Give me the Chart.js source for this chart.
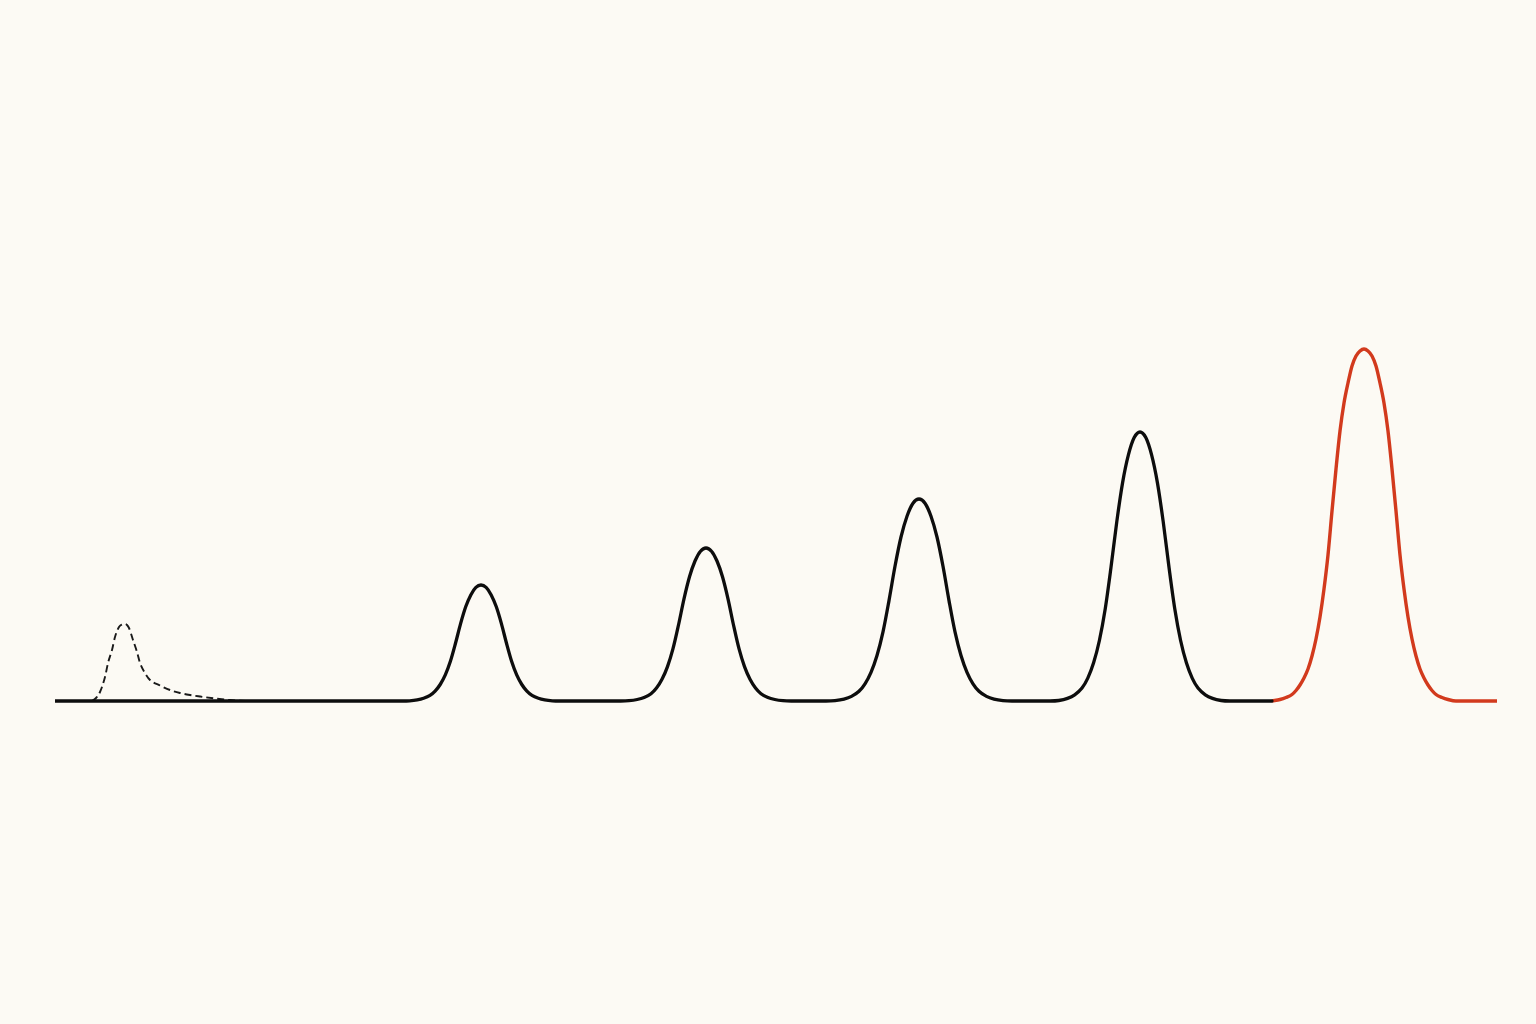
<!DOCTYPE html>
<html>
<head>
<meta charset="utf-8">
<script src="https://cdn.jsdelivr.net/npm/chart.js@4"></script>
<style>
  html, body { margin: 0; padding: 0; background: #fcfaf4; }
  #wrap { width: 1536px; height: 1024px; position: relative; }
</style>
</head>
<body>
<div id="wrap"><canvas id="c"></canvas></div>
<script>
// x: time units, y: height above baseline
const baseStartT = 0;
const baseEndT = 121.7;

const peak1T = [34.69, 35.46, 36.22, 36.86, 37.50, 38.01, 38.52, 39.03, 39.54, 40.05, 40.56, 41.07, 41.58, 42.09, 42.6,
                43.11, 43.62, 44.13, 44.64, 45.15, 45.66, 46.17, 46.68, 47.19, 47.70, 48.34, 48.98, 49.74, 50.51];
const peak1H = [0, 0.2, 1.1, 2.7, 5.6, 9.9, 16.5, 26.1, 39.7, 57.7, 77.4, 94.2, 106.1, 113.6, 116,
                113.6, 106.1, 94.2, 77.4, 57.7, 39.7, 26.1, 16.5, 9.9, 5.6, 2.7, 1.1, 0.2, 0];

const peak2T = [56.57, 57.40, 58.22, 58.91, 59.60, 60.15, 60.70, 61.25, 61.80, 62.35, 62.90, 63.45, 64.00, 64.55, 65.1,
                65.65, 66.20, 66.75, 67.30, 67.85, 68.40, 68.95, 69.50, 70.05, 70.60, 71.29, 71.98, 72.80, 73.63];
const peak2H = [0, 0.3, 1.5, 3.5, 7.3, 13.0, 21.7, 34.4, 52.3, 76.0, 102.1, 124.2, 140.0, 149.8, 153,
                149.8, 140.0, 124.2, 102.1, 76.0, 52.3, 34.4, 21.7, 13.0, 7.3, 3.5, 1.5, 0.3, 0];

const peak3T = [77.1, 78.0, 78.9, 79.65, 80.4, 81.0, 81.6, 82.2, 82.8, 83.4, 84.0, 84.6, 85.2, 85.8, 86.4,
                87.0, 87.6, 88.2, 88.8, 89.4, 90.0, 90.6, 91.2, 91.8, 92.4, 93.15, 93.9, 94.8, 95.7];
const peak3H = [0, 0.4, 1.9, 4.6, 9.7, 17.2, 28.7, 45.5, 69.1, 100.4, 134.7, 164.0, 184.8, 197.8, 202,
                197.8, 184.8, 164.0, 134.7, 100.4, 69.1, 45.5, 28.7, 17.2, 9.7, 4.6, 1.9, 0.4, 0];

const peak4T = [99.51, 100.38, 101.25, 101.97, 102.70, 103.28, 103.86, 104.44, 105.02, 105.60, 106.18, 106.76, 107.34, 107.92, 108.5,
                109.08, 109.66, 110.24, 110.82, 111.40, 111.98, 112.56, 113.14, 113.72, 114.30, 115.03, 115.75, 116.62, 117.49];
const peak4H = [0, 0.5, 2.6, 6.2, 12.9, 22.9, 38.2, 60.5, 92.0, 133.7, 179.4, 218.4, 246.1, 263.4, 269,
                263.4, 246.1, 218.4, 179.4, 133.7, 92.0, 60.5, 38.2, 22.9, 12.9, 6.2, 2.6, 0.5, 0];

const redT = [121.7, 122.5, 123.1, 123.7, 124.1, 124.5, 124.9, 125.3, 125.7, 126.1, 126.5, 126.9, 127.3, 127.7, 128.1, 128.5, 128.9, 129.3, 129.7, 130.1, 130.5, 130.9,
              131.3, 131.7, 132.1, 132.5, 132.9, 133.3, 133.7, 134.1, 134.5, 134.9, 135.3, 135.7, 136.1, 136.5, 136.9, 137.3, 137.7, 138.1, 138.7, 139.3, 140.1, 144.2];
const redH = [0, 1.5, 3.5, 6.5, 10.5, 16, 23, 32, 45, 62, 84, 112, 146, 190, 232, 270, 298, 318, 335, 345, 350, 352,
              350, 345, 335, 318, 298, 270, 232, 190, 146, 112, 84, 62, 45, 32, 23, 16, 10.5, 6.5, 3.5, 1.5, 0, 0];

const dashT = [3.7, 4.1, 4.5, 5.0, 5.3, 5.7, 6.0, 6.4, 6.7, 7.0, 7.2, 7.4, 7.8, 8.2, 8.5, 9.0, 9.5, 10.5, 11.5, 12.5, 13.5, 14.5, 16.0, 17.5, 19.0];
const dashH = [0, 3, 9, 24, 38, 51, 64, 74, 76.5, 77, 76, 73, 61, 49, 38, 28, 21, 15.5, 11, 8, 6, 4.5, 2.5, 1, 0];

function pts(ts, hs) { return ts.map((t, i) => ({ x: t, y: hs[i] })); }

const blackData = [{ x: baseStartT, y: 0 }]
  .concat(pts(peak1T, peak1H), pts(peak2T, peak2H), pts(peak3T, peak3H), pts(peak4T, peak4H))
  .concat([{ x: baseEndT, y: 0 }]);

const bgPlugin = {
  id: 'bg',
  beforeDraw(chart) {
    const ctx = chart.ctx;
    ctx.save();
    ctx.fillStyle = '#fcfaf4';
    ctx.fillRect(0, 0, chart.width, chart.height);
    ctx.restore();
  }
};

new Chart(document.getElementById('c'), {
  type: 'line',
  data: {
    datasets: [
      {
        data: blackData,
        borderColor: '#0d0d0d',
        borderWidth: 3.3,
        pointRadius: 0,
        cubicInterpolationMode: 'monotone',
        borderJoinStyle: 'round',
        borderCapStyle: 'round',
        fill: false
      },
      {
        data: pts(redT, redH),
        borderColor: '#d23a1d',
        borderWidth: 3.4,
        pointRadius: 0,
        cubicInterpolationMode: 'monotone',
        borderJoinStyle: 'round',
        borderCapStyle: 'butt',
        fill: false
      },
      {
        data: pts(dashT, dashH),
        borderColor: '#1a1a1a',
        borderWidth: 1.9,
        borderDash: [7, 4],
        pointRadius: 0,
        cubicInterpolationMode: 'monotone',
        fill: false
      }
    ]
  },
  options: {
    responsive: true,
    maintainAspectRatio: false,
    animation: false,
    layout: { padding: { left: 55, right: 39, top: 101, bottom: 223 } },
    plugins: { legend: { display: false }, tooltip: { enabled: false } },
    scales: {
      x: { type: 'linear', min: 0, max: 144.2, display: false },
      y: { type: 'linear', min: -100, max: 600, display: false }
    }
  },
  plugins: [bgPlugin]
});
</script>
</body>
</html>
